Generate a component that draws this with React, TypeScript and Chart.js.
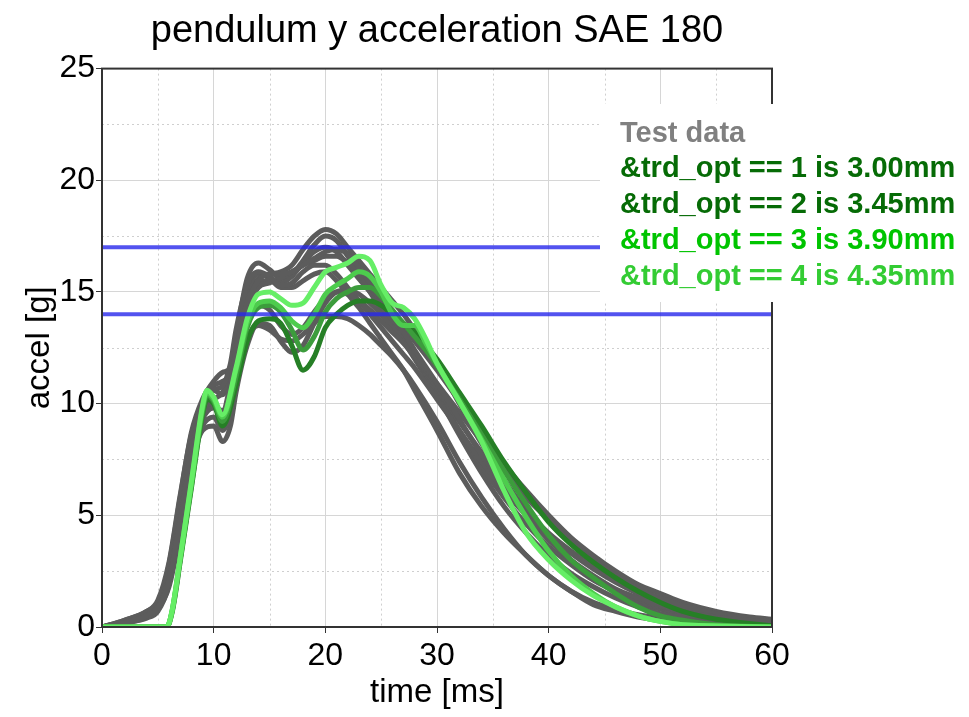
import React, { useEffect, useRef } from "react";
import { Chart, registerables } from "chart.js";

Chart.register(...registerables);

const TITLE = "pendulum y acceleration SAE 180";
const X_LABEL = "time [ms]";
const Y_LABEL = "accel [g]";
const LEGEND_TEST = "Test data";
const SIM_LABELS = [
  "&trd_opt == 1 is 3.00mm",
  "&trd_opt == 2 is 3.45mm",
  "&trd_opt == 3 is 3.90mm",
  "&trd_opt == 4 is 4.35mm",
];
const SIM_TEXT_COLORS = ["#066b06", "#066b06", "#00c400", "#33cc33"];
const SIM_LINE_COLORS = ["#267f26", "#3c9c3c", "#4dcc4d", "#66ee66"];
const LIMITS = [17, 14];

const TIME_TEST = [0, 2, 4, 5, 6, 7, 8, 9, 10, 10.8, 11.5, 12, 13, 14, 15, 16, 17, 18, 19, 20, 21, 22, 23, 24, 25, 26, 27, 28, 30, 32, 34, 36, 38, 40, 42, 44, 46, 48, 50, 52, 55, 58, 60];
const TEST_A = [0, 0.2, 0.5, 0.9, 2.3, 5.0, 8.0, 9.8, 10.6, 10.4, 11.3, 12.8, 14.8, 15.6, 15.8, 15.9, 16.2, 16.9, 17.5, 17.8, 17.6, 17.0, 16.4, 15.8, 15.2, 14.6, 14.0, 13.3, 11.8, 10.0, 8.2, 6.6, 5.2, 4.0, 3.0, 2.2, 1.6, 1.1, 0.8, 0.6, 0.4, 0.3, 0.25];
const TEST_B = [0, 0.25, 0.6, 1.0, 2.8, 5.8, 8.7, 10.2, 11.0, 11.4, 11.6, 13.0, 15.6, 16.3, 16.0, 15.6, 15.8, 16.4, 17.1, 17.5, 17.3, 16.6, 15.8, 15.0, 14.2, 13.5, 12.8, 12.0, 10.4, 8.6, 6.9, 5.4, 4.2, 3.2, 2.4, 1.8, 1.3, 0.9, 0.6, 0.45, 0.3, 0.2, 0.15];
const TEST_C = [0, 0.3, 0.7, 1.1, 2.5, 5.2, 8.2, 9.6, 10.2, 10.5, 11.5, 12.8, 14.6, 15.4, 15.5, 15.4, 15.7, 16.3, 16.8, 17.0, 16.8, 16.2, 15.6, 15.0, 14.4, 13.7, 12.9, 12.1, 10.5, 8.8, 7.2, 5.8, 4.6, 3.6, 2.8, 2.1, 1.6, 1.2, 0.9, 0.7, 0.5, 0.35, 0.3];
const TEST_D = [0, 0.2, 0.5, 0.8, 1.8, 4.2, 7.2, 8.8, 9.0, 8.3, 9.0, 10.5, 12.6, 13.6, 13.5, 12.8, 12.3, 12.6, 13.6, 14.5, 15.0, 15.1, 14.9, 14.5, 14.0, 13.4, 12.8, 12.1, 10.7, 9.2, 7.8, 6.4, 5.2, 4.2, 3.4, 2.7, 2.1, 1.6, 1.2, 0.9, 0.6, 0.4, 0.3];
const TEST_E = [0, 0.2, 0.4, 0.7, 1.9, 4.5, 7.5, 9.0, 9.4, 8.8, 9.6, 11.0, 12.9, 13.5, 13.3, 12.9, 12.8, 13.1, 13.6, 13.9, 13.9, 13.8, 13.5, 13.1, 12.6, 12.1, 11.5, 10.8, 9.2, 7.4, 5.8, 4.4, 3.2, 2.3, 1.6, 1.1, 0.8, 0.55, 0.4, 0.3, 0.2, 0.15, 0.1];
const TEST_F = [0, 0.25, 0.6, 1.0, 2.6, 5.5, 8.5, 10.0, 10.8, 11.0, 11.4, 12.9, 15.0, 15.8, 15.6, 15.2, 15.2, 15.5, 15.8, 15.9, 15.5, 14.9, 14.3, 13.6, 12.9, 12.2, 11.5, 10.6, 8.8, 6.9, 5.4, 4.2, 3.2, 2.3, 1.6, 1.0, 0.7, 0.45, 0.3, 0.2, 0.15, 0.1, 0.1];
const TEST_G = [0, 0.15, 0.45, 0.8, 2.0, 4.8, 7.8, 9.4, 10.0, 9.6, 10.6, 12.0, 14.2, 15.2, 15.4, 15.6, 15.9, 16.2, 16.4, 16.6, 16.6, 16.3, 15.8, 15.2, 14.6, 14.0, 13.4, 12.8, 11.5, 10.1, 8.7, 7.3, 6.1, 5.0, 4.0, 3.2, 2.5, 1.9, 1.5, 1.1, 0.7, 0.45, 0.35];
const TEST_H = [0, 0.3, 0.7, 1.2, 2.9, 5.9, 8.6, 9.9, 10.6, 10.8, 11.8, 13.3, 15.3, 15.9, 15.7, 15.3, 15.4, 15.9, 16.2, 16.2, 15.8, 15.2, 14.6, 14.0, 13.4, 12.8, 12.2, 11.6, 10.2, 8.8, 7.4, 6.1, 5.0, 4.1, 3.3, 2.6, 2.0, 1.5, 1.1, 0.8, 0.5, 0.35, 0.3];
const TEST_I = [0, 0.2, 0.55, 0.9, 2.2, 5.0, 8.0, 9.5, 10.0, 9.5, 10.3, 11.7, 13.6, 14.4, 14.2, 13.5, 13.1, 13.4, 14.1, 14.7, 15.0, 14.9, 14.6, 14.2, 13.7, 13.2, 12.7, 12.1, 10.9, 9.6, 8.3, 7.0, 5.8, 4.8, 3.8, 3.0, 2.3, 1.7, 1.3, 0.95, 0.6, 0.4, 0.3];
const TEST_J = [0, 0.2, 0.5, 0.85, 2.1, 4.7, 7.7, 9.3, 9.8, 9.7, 10.9, 12.4, 14.5, 15.5, 15.8, 15.8, 15.9, 16.2, 16.5, 16.8, 16.9, 16.7, 16.1, 15.4, 14.7, 14.0, 13.2, 12.4, 10.9, 9.3, 7.7, 6.3, 5.0, 3.9, 3.0, 2.3, 1.7, 1.3, 0.95, 0.7, 0.45, 0.3, 0.25];
const TEST_SERIES = [TEST_A, TEST_B, TEST_C, TEST_D, TEST_E, TEST_F, TEST_G, TEST_H, TEST_I, TEST_J];

const TIME_SIM = [0, 2, 4, 5, 5.8, 6.3, 7, 8, 9, 9.4, 10, 10.8, 12, 13, 14, 15, 16, 17, 18, 19, 20, 21, 22, 23, 24, 25, 26, 27, 28, 29, 30, 32, 34, 36, 38, 40, 42, 44, 46, 48, 50, 52, 55, 60];
const SIM_1 = [0, 0, 0, 0, 0, 0.7, 2.9, 6.2, 9.5, 10.2, 10.0, 9.0, 10.8, 12.8, 13.7, 13.8, 13.6, 12.6, 11.5, 12.1, 13.4, 14.0, 14.4, 14.6, 14.6, 14.4, 14.0, 13.6, 13.2, 12.6, 12.0, 10.5, 9.0, 7.4, 6.0, 4.7, 3.7, 2.9, 2.2, 1.6, 1.1, 0.7, 0.35, 0.05];
const SIM_2 = [0, 0, 0, 0, 0, 0.75, 3.0, 6.3, 9.6, 10.4, 10.1, 9.2, 11.2, 13.4, 14.3, 14.4, 14.1, 13.3, 12.4, 13.0, 14.1, 14.7, 15.0, 15.2, 15.2, 14.8, 14.2, 13.6, 13.0, 12.4, 11.7, 10.2, 8.6, 7.0, 5.5, 4.1, 3.0, 2.2, 1.5, 0.9, 0.5, 0.3, 0.1, 0];
const SIM_3 = [0, 0, 0, 0, 0, 0.8, 3.1, 6.4, 9.8, 10.5, 10.2, 9.4, 11.5, 13.6, 14.5, 14.6, 14.3, 13.7, 13.4, 14.0, 14.9, 15.3, 15.6, 15.9, 15.7, 15.0, 14.0, 13.5, 13.5, 12.7, 11.8, 10.1, 8.4, 6.6, 4.9, 3.4, 2.3, 1.5, 0.9, 0.5, 0.25, 0.1, 0.05, 0];
const SIM_4 = [0, 0, 0, 0, 0, 0.8, 3.1, 6.5, 9.9, 10.6, 10.3, 9.5, 11.6, 13.8, 14.9, 15.0, 14.7, 14.4, 14.5, 15.2, 15.9, 16.1, 16.3, 16.6, 16.4, 15.3, 14.5, 14.3, 13.8, 12.9, 11.8, 10.1, 8.3, 6.1, 4.2, 3.0, 2.1, 1.4, 0.9, 0.5, 0.25, 0.1, 0.05, 0];
const SIM_SERIES = [SIM_1, SIM_2, SIM_3, SIM_4];

const FONT = "'Liberation Sans', Arial, Helvetica, sans-serif";

const framePlugin = {
  id: "frameAndLegend",
  beforeDatasetsDraw(chart: any) {
    const { ctx, chartArea, scales } = chart;
    const xs = scales.x;
    const ys = scales.y;
    ctx.save();
    ctx.strokeStyle = "#cfcfcf";
    ctx.lineWidth = 1;
    ctx.setLineDash([2, 3]);
    for (let v = 5; v < 60; v += 10) {
      const px = Math.round(xs.getPixelForValue(v)) + 0.5;
      ctx.beginPath();
      ctx.moveTo(px, chartArea.top);
      ctx.lineTo(px, chartArea.bottom);
      ctx.stroke();
    }
    for (let v = 2.5; v < 25; v += 5) {
      const py = Math.round(ys.getPixelForValue(v)) + 0.5;
      ctx.beginPath();
      ctx.moveTo(chartArea.left, py);
      ctx.lineTo(chartArea.right, py);
      ctx.stroke();
    }
    ctx.restore();
  },
  afterDraw(chart: any) {
    const { ctx, chartArea } = chart;
    ctx.save();
    ctx.strokeStyle = "#333";
    ctx.lineWidth = 2;
    ctx.strokeRect(chartArea.left, chartArea.top, chartArea.right - chartArea.left, chartArea.bottom - chartArea.top);
    ctx.fillStyle = "#ffffff";
    ctx.fillRect(600, 104, 369, 198);
    ctx.font = `bold 29px ${FONT}`;
    ctx.textBaseline = "middle";
    ctx.textAlign = "left";
    ctx.fillStyle = "#808080";
    ctx.fillText(LEGEND_TEST, 620, 134);
    SIM_LABELS.forEach((lab, i) => {
      ctx.fillStyle = SIM_TEXT_COLORS[i];
      ctx.fillText(lab, 620, 169 + i * 36);
    });
    ctx.restore();
  },
};

export default function App() {
  const ref = useRef<HTMLCanvasElement | null>(null);
  useEffect(() => {
    if (!ref.current) return;
    const toPts = (t: number[], v: number[]) => t.map((x, i) => ({ x, y: v[i] }));
    const datasets: any[] = [];
    TEST_SERIES.forEach((s, i) => {
      datasets.push({
        label: i === 0 ? LEGEND_TEST : "",
        data: toPts(TIME_TEST, s),
        borderColor: "#5c5c5c",
        borderWidth: 5,
        pointRadius: 0,
        cubicInterpolationMode: "monotone",
        fill: false,
        order: 100 - i,
      });
    });
    SIM_SERIES.forEach((s, i) => {
      datasets.push({
        label: SIM_LABELS[i],
        data: toPts(TIME_SIM, s),
        borderColor: SIM_LINE_COLORS[i],
        borderWidth: 5,
        pointRadius: 0,
        cubicInterpolationMode: "monotone",
        fill: false,
        order: 20 - i,
      });
    });
    LIMITS.forEach((l, i) => {
      datasets.push({
        label: "limit",
        data: [{ x: 0, y: l }, { x: 60, y: l }],
        borderColor: "rgba(40,40,235,0.8)",
        borderWidth: 4,
        pointRadius: 0,
        fill: false,
        order: 2 - i,
      });
    });
    const chart = new Chart(ref.current, {
      type: "line",
      data: { datasets },
      plugins: [framePlugin],
      options: {
        animation: false,
        responsive: true,
        maintainAspectRatio: false,
        devicePixelRatio: 1,
        layout: { padding: { right: 197, top: 0, bottom: 0, left: 0 } },
        plugins: {
          legend: { display: false },
          tooltip: { enabled: false },
          title: {
            display: true,
            text: TITLE,
            fullSize: false,
            color: "#000",
            font: { family: FONT, size: 38, weight: "normal" },
            padding: { top: 9, bottom: 14 },
          },
        },
        scales: {
          x: {
            type: "linear",
            min: 0,
            max: 60,
            afterFit: (s: any) => { s.height = 90; },
            ticks: { stepSize: 10, color: "#000", font: { family: FONT, size: 32 }, padding: 4, maxRotation: 0 },
            grid: { color: "#d6d6d6", lineWidth: 1, tickLength: 6, tickColor: "#333" },
            border: { color: "#333", width: 2 },
            title: { display: true, text: X_LABEL, color: "#000", font: { family: FONT, size: 33 }, padding: { top: 0, bottom: 4 } },
          },
          y: {
            type: "linear",
            min: 0,
            max: 25,
            afterFit: (s: any) => { s.width = 102; },
            ticks: { stepSize: 5, color: "#000", font: { family: FONT, size: 32 }, padding: 1 },
            grid: { color: "#d6d6d6", lineWidth: 1, tickLength: 6, tickColor: "#333" },
            border: { color: "#333", width: 2 },
            title: { display: true, text: Y_LABEL, color: "#000", font: { family: FONT, size: 33 }, padding: { top: 20, bottom: 0 } },
          },
        },
      } as any,
    });
    return () => chart.destroy();
  }, []);
  return (
    <div style={{ position: "fixed", left: 0, top: 0, width: 969, height: 717, background: "#fff" }}>
      <canvas ref={ref} />
    </div>
  );
}
